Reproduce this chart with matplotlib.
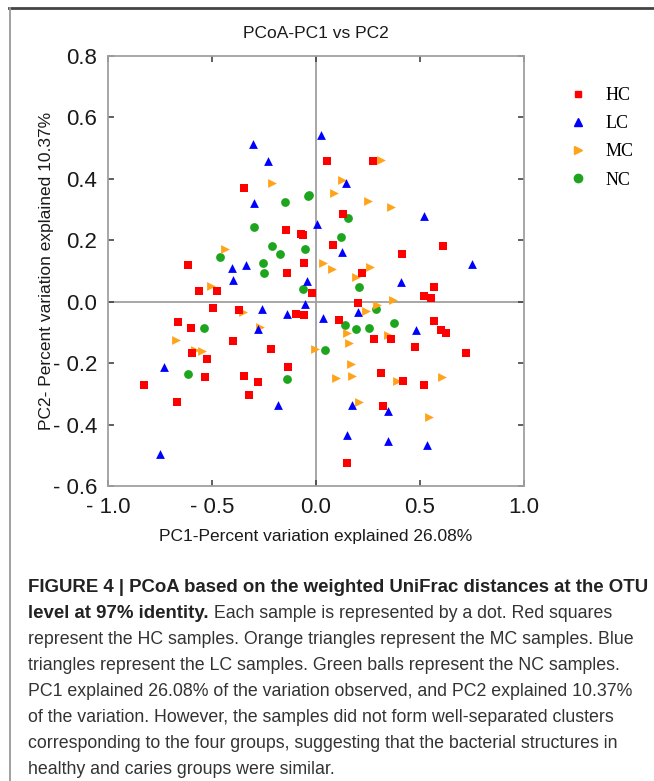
import numpy as np
import matplotlib
matplotlib.use("Agg")
import matplotlib.pyplot as plt
from matplotlib.lines import Line2D

# PCoA coordinates (PC1, PC2)
hc_x = [-0.346, -0.146, -0.071, -0.064, -0.617, -0.056, -0.141, -0.564, -0.478, -0.020,
        0.053, 0.274, 0.130, 0.082, 0.609, 0.415, 0.221, 0.566, 0.518, 0.553, 0.200,
        -0.495, -0.372, -0.665, -0.599, -0.096, -0.059, -0.401, -0.215, -0.595, -0.524,
        -0.133, -0.829, -0.348, -0.535, -0.277, -0.322, -0.667,
        0.112, 0.569, 0.601, 0.623, 0.280, 0.361, 0.478, 0.723, 0.313, 0.417, 0.521,
        0.322, 0.149]
hc_y = [0.369, 0.235, 0.221, 0.216, 0.118, 0.127, 0.093, 0.034, 0.036, 0.029,
        0.457, 0.459, 0.286, 0.186, 0.183, 0.156, 0.093, 0.048, 0.018, 0.013, -0.005,
        -0.022, -0.027, -0.065, -0.085, -0.040, -0.042, -0.128, -0.155, -0.168, -0.188,
        -0.214, -0.271, -0.242, -0.246, -0.262, -0.305, -0.328,
        -0.061, -0.064, -0.092, -0.101, -0.121, -0.121, -0.149, -0.166, -0.232, -0.258, -0.270,
        -0.340, -0.524]

lc_x = [0.024, -0.304, -0.232, -0.296, 0.005, -0.405, -0.337, -0.401, -0.043, 0.144,
        0.518, 0.127, 0.748, 0.410,
        -0.261, -0.138, -0.051, -0.277, -0.729, -0.184, -0.748,
        0.034, 0.200, 0.482, 0.173, 0.345, 0.147, 0.345, 0.535]
lc_y = [0.544, 0.512, 0.459, 0.321, 0.253, 0.111, 0.120, 0.072, 0.068, 0.387,
        0.278, 0.163, 0.123, 0.063,
        -0.025, -0.041, -0.009, -0.090, -0.212, -0.335, -0.497,
        -0.052, -0.034, -0.092, -0.337, -0.357, -0.435, -0.452, -0.467]

mc_x = [-0.210, -0.436, -0.505, 0.314, 0.125, 0.088, 0.248, 0.362, 0.032, 0.077,
        0.258, 0.194, 0.370,
        -0.351, -0.671, -0.583, -0.548, -0.271, -0.003,
        0.293, 0.240, 0.149, 0.157, 0.346, 0.168, 0.173, 0.096, 0.389, 0.606, 0.205, 0.542]
mc_y = [0.386, 0.172, 0.052, 0.460, 0.395, 0.353, 0.328, 0.310, 0.125, 0.107,
        0.114, 0.082, 0.006,
        -0.034, -0.126, -0.158, -0.159, -0.082, -0.155,
        -0.012, -0.030, -0.101, -0.134, -0.109, -0.202, -0.242, -0.248, -0.258, -0.246, -0.326, -0.376]

nc_x = [-0.040, -0.035, -0.151, -0.296, -0.213, -0.175, -0.460, -0.256, -0.250, -0.054,
        -0.061, 0.154, 0.122, 0.205,
        -0.540, -0.615, -0.139, 0.290, 0.138, 0.194, 0.256, 0.377, 0.045]
nc_y = [0.343, 0.348, 0.325, 0.243, 0.183, 0.154, 0.145, 0.127, 0.094, 0.172,
        0.042, 0.273, 0.211, 0.048,
        -0.087, -0.236, -0.253, -0.023, -0.076, -0.090, -0.087, -0.068, -0.156]

xticks = [-1.0, -0.5, 0.0, 0.5, 1.0]
xtick_labels = ["- 1.0", "- 0.5", "0.0", "0.5", "1.0"]
yticks = [0.8, 0.6, 0.4, 0.2, 0.0, -0.2, -0.4, -0.6]
ytick_labels = ["0.8", "0.6", "0.4", "0.2", "0.0", "- 0.2", "- 0.4", "- 0.6"]

caption_lines = [
    "represent the HC samples. Orange triangles represent the MC samples. Blue",
    "triangles represent the LC samples. Green balls represent the NC samples.",
    "PC1 explained 26.08% of the variation observed, and PC2 explained 10.37%",
    "of the variation. However, the samples did not form well-separated clusters",
    "corresponding to the four groups, suggesting that the bacterial structures in",
    "healthy and caries groups were similar.",
]

W, H = 654, 781
fig = plt.figure(figsize=(W / 100, H / 100), dpi=100)
ax = fig.add_axes([108 / W, 1 - 486 / H, 416 / W, 430 / H])

ax.axhline(0, color="#a0a0a0", lw=1.3, zorder=1)
ax.axvline(0, color="#a0a0a0", lw=1.3, zorder=1)

ms = 40
ax.scatter(nc_x, nc_y, s=ms, marker="o", color="#1ea51e", linewidths=0, zorder=2)
ax.scatter(mc_x, mc_y, s=ms, marker=">", color="#ffa31a", linewidths=0, zorder=3)
ax.scatter(lc_x, lc_y, s=ms, marker="^", color="#0000ff", linewidths=0, zorder=4)
ax.scatter(hc_x, hc_y, s=ms, marker="s", color="#ff0000", linewidths=0, zorder=5)

ax.set_xlim(-1.0, 1.0)
ax.set_ylim(-0.6, 0.8)
ax.set_xticks(xticks)
ax.set_xticklabels(xtick_labels)
ax.set_yticks(yticks)
ax.set_yticklabels(ytick_labels)
for s in ax.spines.values():
    s.set_color("#a0a0a0")
    s.set_linewidth(1.3)
ax.tick_params(direction="in", top=True, right=True, length=4, width=1.2,
               color="#444444", labelsize=16, labelcolor="#1a1a1a", pad=8)
for lab in ax.get_xticklabels() + ax.get_yticklabels():
    lab.set_family("Liberation Sans")

ax.set_title("PCoA-PC1 vs PC2", fontsize=12.5, family="Liberation Sans", color="#1a1a1a", pad=13)
ax.set_xlabel("PC1-Percent variation explained 26.08%", fontsize=12.5,
              family="Liberation Sans", color="#1a1a1a", labelpad=8)
ax.set_ylabel("PC2- Percent variation explained 10.37%", fontsize=12.5,
              family="Liberation Sans", color="#1a1a1a", labelpad=-1)

handles = [
    Line2D([], [], ls="", marker="s", color="#ff0000", markersize=5),
    Line2D([], [], ls="", marker="^", color="#0000ff", markersize=6),
    Line2D([], [], ls="", marker=">", color="#ffa31a", markersize=6),
    Line2D([], [], ls="", marker="o", color="#1ea51e", markersize=6),
]
fig.legend(handles, ["HC", "LC", "MC", "NC"], loc="upper left",
           bbox_to_anchor=(560 / W, 1 - 78 / H), frameon=False,
           prop={"family": "Liberation Serif", "size": 13},
           handlelength=1.0, handletextpad=1.0, labelspacing=0.62, borderpad=0)

# outer frame of the figure panel
fig.add_artist(Line2D([9 / W, 1], [1 - 8 / H, 1 - 8 / H], color="#444444", lw=2))
fig.add_artist(Line2D([10 / W, 10 / W], [0, 1 - 8 / H], color="#999999", lw=1.3))

# caption
cx = 28 / W
bold_size = 13.4
text_size = 12.8
fig.text(cx, 1 - 588 / H, "FIGURE 4 | PCoA based on the weighted UniFrac distances at the OTU",
         fontsize=bold_size, fontweight="bold", family="Liberation Sans", color="#222222",
         va="center")
t2 = fig.text(cx, 1 - 614 / H, "level at 97% identity.", fontsize=bold_size, fontweight="bold",
              family="Liberation Sans", color="#222222", va="center")
ax.annotate(" Each sample is represented by a dot. Red squares", xy=(1, 0.5), xycoords=t2,
            va="center", ha="left", fontsize=text_size, family="Liberation Sans",
            color="#333333", annotation_clip=False)
for i, line in enumerate(caption_lines):
    fig.text(cx, 1 - (640 + 26 * i) / H, line, fontsize=text_size, family="Liberation Sans",
             color="#333333", va="center")

fig.savefig("out.png", dpi=100)
